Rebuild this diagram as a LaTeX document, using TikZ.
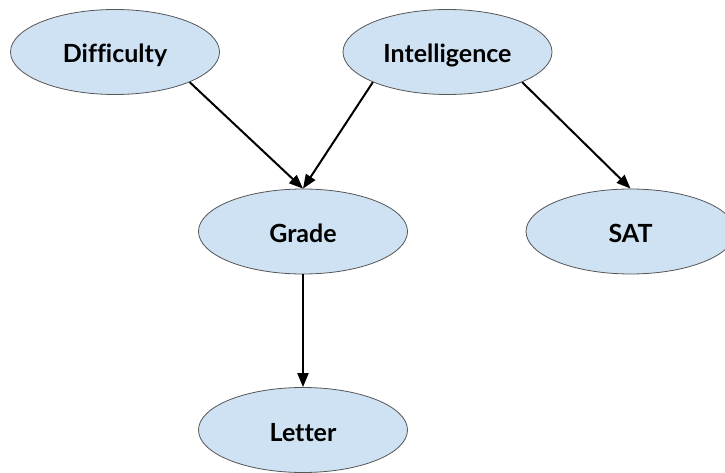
\documentclass[tikz,border=0pt]{standalone}
\usepackage{fontspec}
\setmainfont{Lato}[Ligatures=CommonOff]
\usetikzlibrary{shapes.geometric,arrows.meta}
\definecolor{nodefill}{HTML}{CFE2F3}
\definecolor{nodeedge}{HTML}{555555}
\begin{document}
\begin{tikzpicture}[x=1pt,y=-1pt,
  var/.style={ellipse,draw=nodeedge,line width=0.8pt,fill=nodefill,minimum width=209pt,minimum height=85pt,inner sep=0pt,text height=22pt,text depth=0pt,font=\fontsize{25}{30}\selectfont\bfseries},
  edge/.style={line width=2pt,-{Triangle[length=14pt,width=11pt]}}]
\useasboundingbox (0,0) rectangle (725,473);
\node[var] (diff) at (115,52) {Difficulty};
\node[var] (intel) at (447.5,52) {Intelligence};
\node[var] (grade) at (303,231.5) {Grade};
\node[var] (sat) at (630.5,231.5) {SAT};
\node[var] (letter) at (303,430) {Letter};
\draw[edge] (diff.-22.5) -- (grade.north);
\draw[edge] (intel.-158) -- (grade.north);
\draw[edge] (intel.-22.6) -- (sat.north);
\draw[edge] (grade.south) -- (letter.north);
\end{tikzpicture}
\end{document}
